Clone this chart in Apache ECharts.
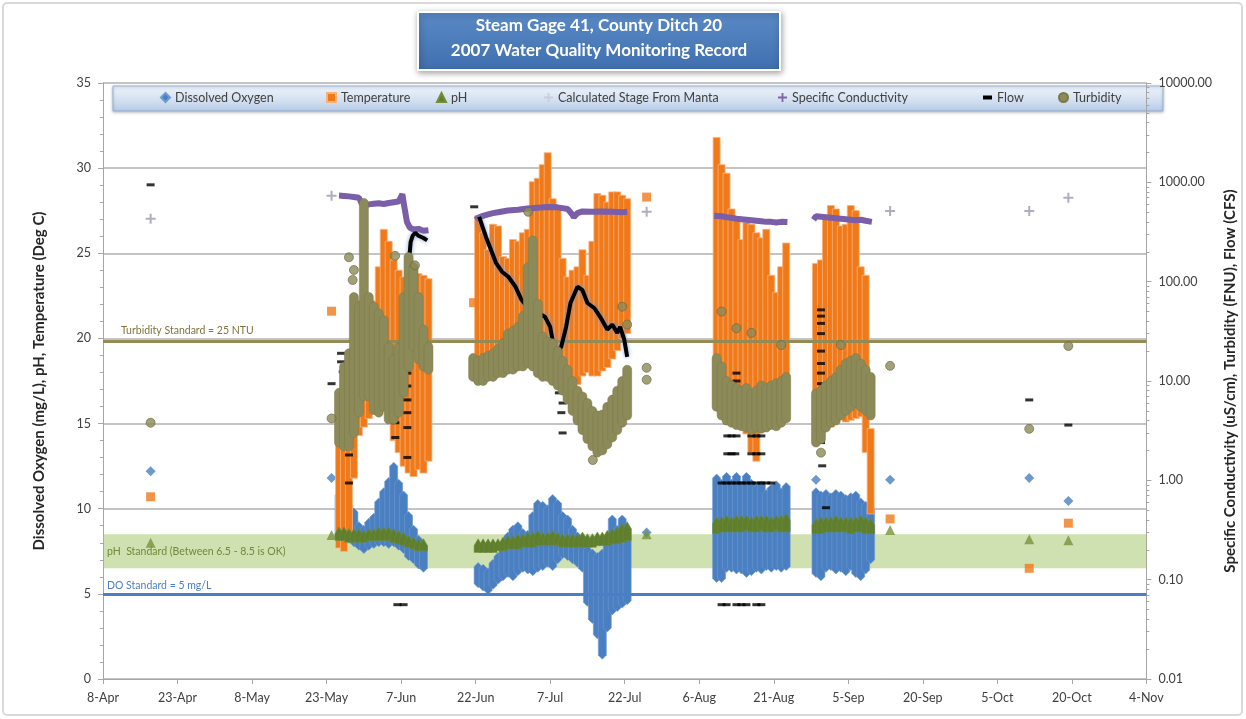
<!DOCTYPE html>
<html>
<head>
<meta charset="utf-8">
<style>
  html, body { margin: 0; padding: 0; background: #fff; }
  #main { width: 1246px; height: 719px; }
</style>
<script src="https://cdn.jsdelivr.net/npm/echarts@6/dist/echarts.min.js"></script>
</head>
<body>
<div id="main"></div>
<script>
// x axis: days counted from 8-Apr-2007, one tick every 15 days
const xTickLabels = ['8-Apr', '23-Apr', '8-May', '23-May', '7-Jun', '22-Jun', '7-Jul', '22-Jul',
  '6-Aug', '21-Aug', '5-Sep', '20-Sep', '5-Oct', '20-Oct', '4-Nov'];

// daily ranges [date, low, high] of the continuous sonde record
const doRanges = [
  ['5/25', 8.2, 10.8], ['5/26', 8.0, 10.5], ['5/27', 8.2, 10.2], ['5/28', 8.0, 9.8], ['5/29', 7.8, 9.0],
  ['5/30', 7.6, 8.8], ['5/31', 7.8, 9.2], ['6/1', 7.9, 9.5], ['6/2', 8.0, 10.4], ['6/3', 8.0, 11.0],
  ['6/4', 7.9, 11.6], ['6/5', 8.0, 12.5], ['6/6', 7.8, 11.5], ['6/7', 7.6, 10.8], ['6/8', 7.2, 9.6],
  ['6/9', 7.0, 8.8], ['6/10', 6.7, 8.2], ['6/11', 6.5, 7.8],
  ['6/22', 5.6, 6.6], ['6/23', 5.4, 6.5], ['6/24', 5.2, 6.3], ['6/25', 5.5, 6.8], ['6/26', 5.8, 7.2],
  ['6/27', 6.0, 7.8], ['6/28', 6.2, 8.4], ['6/29', 6.0, 8.8], ['6/30', 6.3, 9.0], ['7/1', 6.5, 8.6],
  ['7/2', 6.4, 8.5], ['7/3', 6.3, 9.6], ['7/4', 6.5, 10.3], ['7/5', 6.6, 10.2], ['7/6', 6.8, 10.0],
  ['7/7', 6.6, 10.6], ['7/8', 7.0, 10.3], ['7/9', 7.3, 9.6], ['7/10', 7.2, 9.4], ['7/11', 7.0, 8.8],
  ['7/12', 6.8, 8.4], ['7/13', 6.5, 8.3], ['7/14', 4.5, 7.6], ['7/15', 3.5, 7.4], ['7/16', 2.6, 7.2],
  ['7/17', 1.4, 7.4], ['7/18', 3.0, 8.0], ['7/19', 4.0, 9.4], ['7/20', 4.2, 8.8], ['7/21', 4.4, 9.4],
  ['7/22', 4.6, 8.8],
  ['8/9', 5.9, 11.8], ['8/10', 5.9, 11.5], ['8/11', 6.5, 11.9], ['8/12', 6.5, 11.5], ['8/13', 6.4, 11.9],
  ['8/14', 6.4, 11.4], ['8/15', 6.2, 11.9], ['8/16', 6.3, 11.5], ['8/17', 6.5, 11.2], ['8/18', 6.4, 11.4],
  ['8/19', 6.6, 10.9], ['8/20', 6.5, 11.2], ['8/21', 6.6, 11.4], ['8/22', 6.5, 11.0], ['8/23', 6.6, 11.3],
  ['8/29', 6.2, 11.0], ['8/30', 6.0, 10.8], ['8/31', 6.5, 10.9], ['9/1', 6.6, 10.7], ['9/2', 6.4, 10.9],
  ['9/3', 6.5, 10.8], ['9/4', 6.3, 10.6], ['9/5', 6.6, 10.7], ['9/6', 6.2, 10.8], ['9/7', 6.0, 10.4],
  ['9/8', 6.4, 10.2], ['9/9', 7.0, 10.0]
];
const tempRanges = [
  ['5/25', 7.9, 14.2], ['5/26', 7.7, 14.0], ['5/27', 8.8, 18.5], ['5/28', 12.0, 21.5], ['5/29', 14.5, 22.0],
  ['5/30', 15.0, 21.5], ['5/31', 15.5, 21.0], ['6/1', 16.5, 22.0], ['6/2', 17.0, 24.0], ['6/3', 18.5, 26.2],
  ['6/4', 16.0, 25.5], ['6/5', 14.2, 24.4], ['6/6', 13.5, 23.8], ['6/7', 12.7, 23.4], ['6/8', 12.3, 23.0],
  ['6/9', 12.1, 23.6], ['6/10', 12.5, 23.6], ['6/11', 12.3, 23.5], ['6/12', 13.0, 23.3],
  ['6/22', 19.0, 27.0], ['6/23', 18.9, 26.0], ['6/24', 19.2, 25.0], ['6/25', 19.0, 26.5], ['6/26', 18.5, 26.4],
  ['6/27', 18.8, 24.6], ['6/28', 18.6, 24.5], ['6/29', 19.0, 25.6], ['6/30', 19.0, 25.5], ['7/1', 18.7, 26.0],
  ['7/2', 18.7, 26.2], ['7/3', 18.5, 29.0], ['7/4', 19.0, 29.2], ['7/5', 19.2, 30.0], ['7/6', 19.3, 30.7],
  ['7/7', 19.1, 28.0], ['7/8', 19.0, 27.6], ['7/9', 18.3, 24.5], ['7/10', 18.0, 23.4], ['7/11', 17.8, 23.8],
  ['7/12', 17.5, 24.0], ['7/13', 18.0, 25.0], ['7/14', 18.2, 23.5], ['7/15', 18.0, 25.5], ['7/16', 18.0, 28.3],
  ['7/17', 18.3, 28.2], ['7/18', 18.5, 27.8], ['7/19', 19.0, 28.4], ['7/20', 19.5, 28.4], ['7/21', 20.2, 28.2],
  ['7/22', 20.5, 28.0],
  ['8/9', 16.0, 31.6], ['8/10', 15.6, 30.0], ['8/11', 15.5, 29.5], ['8/12', 15.8, 27.4], ['8/13', 15.2, 26.9],
  ['8/14', 15.0, 25.6], ['8/15', 14.6, 26.6], ['8/16', 13.5, 26.5], ['8/17', 13.0, 26.0], ['8/18', 14.8, 25.7],
  ['8/19', 15.0, 26.2], ['8/20', 15.2, 23.5], ['8/21', 15.0, 22.5], ['8/22', 15.1, 24.0], ['8/23', 15.4, 25.4],
  ['8/29', 14.5, 24.2], ['8/30', 14.8, 24.4], ['8/31', 15.0, 27.0], ['9/1', 15.0, 27.6], ['9/2', 15.2, 27.4],
  ['9/3', 15.5, 26.4], ['9/4', 15.3, 26.5], ['9/5', 15.4, 27.6], ['9/6', 15.5, 27.3], ['9/7', 15.6, 24.0],
  ['9/8', 13.5, 23.5], ['9/9', 9.9, 14.5]
];
const phRanges = [
  ['5/25', 8.3, 8.7], ['5/26', 8.3, 8.7], ['5/27', 8.2, 8.6], ['5/28', 8.2, 8.6], ['5/29', 8.2, 8.6],
  ['5/30', 8.2, 8.5], ['5/31', 8.3, 8.6], ['6/1', 8.3, 8.6], ['6/2', 8.3, 8.7], ['6/3', 8.3, 8.7],
  ['6/4', 8.3, 8.7], ['6/5', 8.2, 8.6], ['6/6', 8.1, 8.5], ['6/7', 8.0, 8.4], ['6/8', 7.9, 8.2],
  ['6/9', 7.8, 8.1], ['6/10', 7.7, 8.0], ['6/11', 7.7, 8.0],
  ['6/22', 7.6, 8.0], ['6/23', 7.6, 8.0], ['6/24', 7.6, 8.0], ['6/25', 7.6, 8.0], ['6/26', 7.7, 8.0],
  ['6/27', 7.7, 8.1], ['6/28', 7.8, 8.2], ['6/29', 7.8, 8.2], ['6/30', 7.8, 8.3], ['7/1', 7.9, 8.3],
  ['7/2', 7.9, 8.4], ['7/3', 7.9, 8.4], ['7/4', 8.0, 8.5], ['7/5', 8.0, 8.4], ['7/6', 8.0, 8.4],
  ['7/7', 8.0, 8.5], ['7/8', 8.0, 8.4], ['7/9', 7.9, 8.3], ['7/10', 7.9, 8.3], ['7/11', 7.9, 8.3],
  ['7/12', 7.9, 8.3], ['7/13', 7.9, 8.4], ['7/14', 7.9, 8.3], ['7/15', 7.9, 8.3], ['7/16', 8.0, 8.4],
  ['7/17', 8.0, 8.4], ['7/18', 8.0, 8.5], ['7/19', 8.1, 8.6], ['7/20', 8.1, 8.7], ['7/21', 8.2, 8.9],
  ['7/22', 8.3, 9.0],
  ['8/9', 8.7, 9.3], ['8/10', 8.8, 9.3], ['8/11', 8.8, 9.4], ['8/12', 8.8, 9.3], ['8/13', 8.8, 9.4],
  ['8/14', 8.8, 9.4], ['8/15', 8.9, 9.4], ['8/16', 8.8, 9.3], ['8/17', 8.8, 9.4], ['8/18', 8.9, 9.4],
  ['8/19', 8.8, 9.4], ['8/20', 8.8, 9.3], ['8/21', 8.9, 9.4], ['8/22', 8.8, 9.4], ['8/23', 8.8, 9.5],
  ['8/29', 8.7, 9.2], ['8/30', 8.7, 9.3], ['8/31', 8.8, 9.3], ['9/1', 8.8, 9.3], ['9/2', 8.8, 9.4],
  ['9/3', 8.8, 9.3], ['9/4', 8.8, 9.3], ['9/5', 8.7, 9.3], ['9/6', 8.8, 9.3], ['9/7', 8.8, 9.4],
  ['9/8', 8.7, 9.3], ['9/9', 8.7, 9.2]
];
const turbRanges = [
  ['5/25', 2.4, 7.6], ['5/26', 2.2, 13.9], ['5/27', 2.2, 19], ['5/28', 3.0, 70], ['5/29', 4.8, 56],
  ['5/30', 7, 620], ['5/31', 7, 70], ['6/1', 5.1, 56], ['6/2', 4.8, 48], ['6/3', 5.5, 41],
  ['6/4', 4.1, 22], ['6/5', 4.1, 16.5], ['6/6', 4.8, 22], ['6/7', 7.6, 70], ['6/8', 13.9, 177],
  ['6/9', 22, 140], ['6/10', 16.5, 70], ['6/11', 14, 33], ['6/12', 13, 22],
  ['6/21', 11, 17], ['6/22', 10, 16], ['6/23', 10, 17], ['6/24', 11, 18], ['6/25', 11, 19],
  ['6/26', 12, 21], ['6/27', 12, 24], ['6/28', 13, 30], ['6/29', 13, 32], ['6/30', 14, 35],
  ['7/1', 14, 45], ['7/2', 15, 140], ['7/3', 14, 260], ['7/4', 12, 60], ['7/5', 11, 28],
  ['7/6', 11, 25], ['7/7', 10, 24], ['7/8', 9, 20], ['7/9', 8, 16], ['7/10', 6.5, 13],
  ['7/11', 5, 10], ['7/12', 4, 8], ['7/13', 3.2, 7], ['7/14', 2.6, 6], ['7/15', 2.2, 5],
  ['7/16', 1.9, 4.5], ['7/17', 2.0, 4.6], ['7/18', 2.3, 5.5], ['7/19', 2.7, 6.5], ['7/20', 3.2, 8],
  ['7/21', 3.8, 10], ['7/22', 4.5, 13],
  ['8/9', 5.5, 17], ['8/10', 4.5, 14], ['8/11', 4.0, 10], ['8/12', 3.8, 9], ['8/13', 3.6, 8.5],
  ['8/14', 3.5, 8], ['8/15', 3.4, 8.5], ['8/16', 3.2, 7.5], ['8/17', 3.4, 8], ['8/18', 3.3, 9],
  ['8/19', 3.4, 8.5], ['8/20', 3.6, 9], ['8/21', 3.5, 9.5], ['8/22', 3.8, 10], ['8/23', 4.2, 11],
  ['8/29', 2.4, 7.5], ['8/30', 2.6, 8], ['8/31', 3.4, 9], ['9/1', 3.8, 10], ['9/2', 4.0, 11],
  ['9/3', 4.5, 13], ['9/4', 5, 15], ['9/5', 5.5, 16], ['9/6', 6, 17], ['9/7', 5.5, 15],
  ['9/8', 5, 13], ['9/9', 4.5, 11]
];

// single grab samples and scattered readings [date hour, value]
const doSamples = [['4/17 14', 12.2], ['5/24 0', 11.8], ['7/26 10', 8.6], ['8/29 12', 11.7],
  ['9/13 10', 11.7], ['10/11 10', 11.8], ['10/19 7', 10.45]];
const tempSamples = [['4/17 14', 10.7], ['5/24 0', 21.6], ['6/21 14', 22.1], ['7/26 10', 28.3],
  ['9/13 10', 9.4], ['10/11 10', 6.5], ['10/19 7', 9.15]];
const phSamples = [['4/17 14', 8.0], ['5/24 0', 8.45], ['7/26 10', 8.5], ['9/13 10', 8.75],
  ['10/11 10', 8.2], ['10/19 7', 8.15]];
const turbSamples = [['4/17 14', 3.8], ['5/24 0', 4.2], ['5/27', 176], ['5/28', 131], ['5/28 6', 104],
  ['6/5 19', 182], ['6/9 19', 146], ['7/2 14', 505], ['7/15 14', 1.6], ['7/21', 56], ['7/22', 37],
  ['7/26 10', 13.6], ['7/26 10', 10.3], ['8/10', 50], ['8/13', 34], ['8/16', 30.5], ['8/22', 23],
  ['8/30', 1.9], ['9/3', 23], ['9/13 10', 14.2], ['10/11 10', 3.3], ['10/19 7', 22.5]];
const condSamples = [['4/17 14', 429], ['5/24 0', 731], ['7/26 10', 505], ['9/13 10', 516],
  ['10/11 10', 516], ['10/19 7', 698]];

// specific conductivity record, one array per deployment
const condA = [['5/25 12', 735], ['5/26', 730], ['5/27', 722], ['5/28', 712], ['5/29', 700], ['5/29 20', 690],
  ['5/30 4', 600], ['5/30 18', 585], ['5/31', 600], ['6/1', 610], ['6/2', 615], ['6/3', 605], ['6/4', 620],
  ['6/5', 630], ['6/6', 640], ['6/6 20', 690], ['6/7 6', 760], ['6/7 16', 560], ['6/8 4', 400],
  ['6/8 18', 350], ['6/9', 335], ['6/10', 340], ['6/11', 325], ['6/12', 330]];
const condB = [['6/22 0', 420], ['6/22', 440], ['6/23', 460], ['6/24', 475], ['6/25', 490], ['6/26', 500],
  ['6/28', 520], ['6/30', 530], ['7/2', 545], ['7/4', 555], ['7/6', 565], ['7/8', 560], ['7/10', 540],
  ['7/11', 470], ['7/11 18', 445], ['7/12 12', 490], ['7/13', 510], ['7/15', 505], ['7/17', 510],
  ['7/19', 505], ['7/21', 500], ['7/22 12', 505]];
const condC = [['8/9 0', 460], ['8/10', 455], ['8/11', 445], ['8/12', 440], ['8/13', 430], ['8/14', 425],
  ['8/15', 420], ['8/16', 415], ['8/17', 410], ['8/18', 405], ['8/19', 400], ['8/20', 400], ['8/21', 395],
  ['8/22', 400], ['8/23 18', 398]];
const condD = [['8/29 0', 420], ['8/29 12', 455], ['8/30', 450], ['8/31', 445], ['9/1', 440], ['9/2', 435],
  ['9/3', 430], ['9/4', 425], ['9/5', 420], ['9/6', 415], ['9/7', 420], ['9/8', 410], ['9/9 18', 400]];

// flow record (continuous parts) and scattered flow readings
const flowA = [['5/31 12', 56], ['6/1 12', 45], ['6/2 12', 35], ['6/3 5', 28]];
const flowA2 = [['6/8 10', 110], ['6/8 16', 180], ['6/8 22', 250], ['6/9 8', 290], ['6/9 20', 310],
  ['6/10 12', 290], ['6/11', 275], ['6/11 18', 265], ['6/12 6', 260]];
const flowB = [['6/22 17', 450], ['6/24 2', 282], ['6/26 2', 155], ['6/27 7', 126], ['6/28 14', 112],
  ['6/30 0', 89], ['7/1 5', 66], ['7/2 14', 54], ['7/4 14', 48.5], ['7/6 0', 44], ['7/7 0', 35],
  ['7/7 14', 24.2], ['7/8 5', 19.2], ['7/9 5', 22], ['7/10 5', 35], ['7/11 2', 61], ['7/12 12', 89],
  ['7/13 12', 82], ['7/14 12', 61], ['7/15 22', 54], ['7/17 2', 44], ['7/18 12', 33], ['7/19 12', 37],
  ['7/20 12', 30.5], ['7/21 2', 35], ['7/21 22', 26], ['7/22 12', 17.5]];
const flowDash = [['4/17 14', 944], ['5/24 0', 9.4], ['6/21 17', 567], ['10/11 10', 6.45], ['10/19 7', 3.6],
  ['5/25 22', 19], ['5/25 22', 15.6], ['5/26 6', 12.4], ['5/26 12', 10.3], ['5/27', 8], ['5/27', 5.1],
  ['5/27', 1.8], ['5/27', 0.94], ['5/28 22', 15.5], ['5/28 22', 12], ['5/30', 16.5], ['5/30', 10],
  ['6/5 20', 3.8], ['6/5 20', 2.7], ['6/6 6', 0.056], ['6/7 12', 0.056], ['6/8 6', 22], ['6/8 6', 15.5],
  ['6/8 6', 12], ['6/8 6', 8.9], ['6/8 6', 6.45], ['6/8 6', 4.8], ['6/8 6', 3.4], ['6/8 6', 1.7],
  ['7/8 12', 12], ['7/8 12', 9.6], ['7/8 18', 7.6], ['7/9', 6], ['7/9 6', 4.8], ['7/9 12', 3],
  ['8/11 16', 3.8], ['8/12 6', 3.8], ['8/12 18', 3.8], ['8/11 16', 2.8], ['8/12 12', 2.8], ['8/13', 2.8],
  ['8/11 16', 1.85], ['8/12 12', 1.85], ['8/13 6', 1.85], ['8/16', 2.8], ['8/17', 2.8], ['8/18', 2.8],
  ['8/16', 1.85], ['8/17', 1.85], ['8/18', 1.85], ['8/10', 0.94], ['8/11', 0.94], ['8/12', 0.94],
  ['8/13', 0.94], ['8/14', 0.94], ['8/15', 0.94], ['8/16', 0.94], ['8/17', 0.94], ['8/18', 0.94],
  ['8/19', 0.94], ['8/20', 0.94], ['8/10', 0.056], ['8/11', 0.056], ['8/13', 0.056], ['8/14', 0.056],
  ['8/15', 0.056], ['8/17 12', 0.056], ['8/18 12', 0.056], ['8/13', 12], ['8/13', 10], ['8/13', 8.5],
  ['8/13', 7.6], ['8/18', 7], ['8/18', 5.5], ['8/30 12', 52], ['8/30 12', 45], ['8/30 12', 38],
  ['8/30 12', 30], ['8/30 12', 20], ['8/30 12', 15], ['8/30 12', 12], ['8/30 12', 9.4], ['8/30 12', 2.4],
  ['8/30 18', 1.4], ['8/31', 0.53]];

// standards
const turbStandard = 25;
const doStandard = 5;
const phBand = [6.5, 8.5];

const BASE = Date.UTC(2007, 3, 8);
function day(s) {
  const parts = s.split(' ');
  const md = parts[0].split('/').map(Number);
  const hour = parts.length > 1 ? Number(parts[1]) : 12;
  return (Date.UTC(2007, md[0] - 1, md[1], hour) - BASE) / 86400000;
}
const pts = arr => arr.map(r => [day(r[0]), r[1]]);
const rng = arr => arr.map(r => [day(r[0]), r[1], r[2]]);

const plusPath = 'path://M4,0H6V4H10V6H6V10H4V6H0V4H4Z';
const font = 'Lato, "Open Sans", sans-serif';

// column of stacked markers between the day's low and high value
function columnRender(shape, w) {
  return function (params, api) {
    const x = api.value(0);
    const lo = api.coord([x, api.value(1)]);
    const hi = api.coord([x, api.value(2)]);
    const cx = lo[0], y1 = hi[1], y2 = lo[1], h = w / 2;
    const style = api.style();
    if (shape === 'diamond') {
      return { type: 'polygon', shape: { points: [[cx, y1 - h], [cx + h, y1], [cx + h, y2], [cx, y2 + h], [cx - h, y2], [cx - h, y1]] }, style: style };
    }
    if (shape === 'triangle') {
      return { type: 'polygon', shape: { points: [[cx, y1 - h], [cx + h, y1 + h * 0.7], [cx + h, y2 + h * 0.7], [cx - h, y2 + h * 0.7], [cx - h, y1 + h * 0.7]] }, style: style };
    }
    return { type: 'rect', shape: { x: cx - h, y: y1 - h, width: w, height: y2 - y1 + w, r: shape === 'round' ? h : 0 }, style: style };
  };
}

const chart = echarts.init(document.getElementById('main'));

const legendPos = [
  ['Dissolved Oxygen', 'diamond', 160],
  ['Temperature', 'rect', 326],
  ['pH', 'triangle', 436],
  ['Calculated Stage From Manta', plusPath, 544],
  ['Specific Conductivity', plusPath, 778],
  ['Flow', 'rect', 983],
  ['Turbidity', 'circle', 1058]
];

const option = {
  animation: false,
  backgroundColor: '#fff',
  grid: { left: 103, right: 84, top: 83, bottom: 40 },
  legend: legendPos.map(l => ({
    data: [{ name: l[0], icon: l[1] }],
    left: l[2], top: 91, padding: 0,
    itemWidth: 9, itemHeight: l[0] === 'Flow' ? 4 : 9, itemGap: 4,
    textStyle: { fontFamily: font, fontSize: 12.5, color: '#404040' }
  })),
  xAxis: {
    type: 'value', min: 0, max: 210, interval: 15,
    axisLine: { lineStyle: { color: '#a6a6a6' } },
    axisTick: { lineStyle: { color: '#a6a6a6' }, length: 5 },
    splitLine: { show: false },
    axisLabel: { formatter: v => xTickLabels[Math.round(v / 15)], fontFamily: font, fontSize: 12.5, color: '#404040', margin: 12 }
  },
  yAxis: [
    {
      type: 'value', min: 0, max: 35, interval: 5,
      name: 'Dissolved Oxygen (mg/L), pH, Temperature (Deg C)',
      nameLocation: 'middle', nameGap: 56,
      nameTextStyle: { fontFamily: font, fontSize: 15, fontWeight: 'bold', color: '#262626' },
      axisLine: { show: true, lineStyle: { color: '#a6a6a6' } },
      axisTick: { show: true, lineStyle: { color: '#a6a6a6' }, length: 5 },
      minorTick: { show: true, splitNumber: 5, length: 3, lineStyle: { color: '#a6a6a6' } },
      splitLine: { lineStyle: { color: '#c4c4c4', width: 2 } },
      axisLabel: { fontFamily: font, fontSize: 12.5, color: '#404040', margin: 12 }
    },
    {
      type: 'log', logBase: 10, min: 0.01, max: 10000, splitNumber: 6,
      name: 'Specific Conductivity (uS/cm), Turbidity (FNU), Flow (CFS)',
      nameLocation: 'middle', nameGap: 72, nameRotate: 90,
      nameTextStyle: { fontFamily: font, fontSize: 15, fontWeight: 'bold', color: '#262626' },
      axisLine: { show: true, lineStyle: { color: '#a6a6a6' } },
      axisTick: { show: true, lineStyle: { color: '#a6a6a6' }, length: 5 },
      minorTick: { show: true, splitNumber: 9, length: 3, lineStyle: { color: '#a6a6a6' } },
      splitLine: { show: false },
      axisLabel: { formatter: v => Number(v).toFixed(2), fontFamily: font, fontSize: 12.5, color: '#404040', margin: 12 }
    }
  ],
  graphic: [
    { type: 'rect', shape: { x: 3, y: 3, width: 1239, height: 712, r: 4 }, style: { fill: 'none', stroke: '#d9d9d9', lineWidth: 2 }, silent: true },
    {
      type: 'rect', shape: { x: 113, y: 86, width: 1050, height: 25 }, z: 0,
      style: {
        fill: new echarts.graphic.LinearGradient(0, 0, 0, 1, [{ offset: 0, color: '#eef3fa' }, { offset: 0.5, color: '#d7e3f2' }, { offset: 1, color: '#b7cce6' }]),
        stroke: '#95b3d7', lineWidth: 1, shadowBlur: 3, shadowColor: 'rgba(0,0,0,0.25)', shadowOffsetY: 1
      }
    },
    {
      type: 'rect', shape: { x: 418, y: 12, width: 362, height: 58 }, z: 0,
      style: {
        fill: new echarts.graphic.LinearGradient(0, 0, 0, 1, [{ offset: 0, color: '#5a8ac6' }, { offset: 1, color: '#3f6fae' }]),
        stroke: '#ffffff', lineWidth: 2, shadowBlur: 6, shadowColor: 'rgba(0,0,0,0.35)', shadowOffsetX: 1, shadowOffsetY: 2
      }
    },
    { type: 'text', x: 599, y: 17, z: 1, style: { text: 'Steam Gage 41, County Ditch 20', fill: '#fff', font: 'bold 17px Lato, "Open Sans", sans-serif', align: 'center' } },
    { type: 'text', x: 599, y: 42, z: 1, style: { text: '2007 Water Quality Monitoring Record', fill: '#fff', font: 'bold 17px Lato, "Open Sans", sans-serif', align: 'center' } }
  ],
  series: [
    {
      name: 'Dissolved Oxygen', type: 'custom', yAxisIndex: 0, z: 2,
      renderItem: columnRender('diamond', 8), encode: { x: 0, y: [1, 2] }, data: rng(doRanges),
      itemStyle: { color: '#4a7fc1', borderColor: '#6f9bd2', borderWidth: 0.6 }
    },
    {
      name: 'Dissolved Oxygen', type: 'scatter', yAxisIndex: 0, z: 2, symbol: 'diamond', symbolSize: 10,
      data: pts(doSamples), itemStyle: { color: '#4a7fc1' }
    },
    {
      name: 'Temperature', type: 'custom', yAxisIndex: 0, z: 3,
      renderItem: columnRender('rect', 7), encode: { x: 0, y: [1, 2] }, data: rng(tempRanges),
      itemStyle: { color: '#f07a1a', borderColor: '#f8b37c', borderWidth: 0.8 }
    },
    {
      name: 'Temperature', type: 'scatter', yAxisIndex: 0, z: 3, symbol: 'rect', symbolSize: 9,
      data: pts(tempSamples), itemStyle: { color: '#f07a1a' }
    },
    {
      name: 'pH', type: 'custom', yAxisIndex: 0, z: 4,
      renderItem: columnRender('triangle', 8), encode: { x: 0, y: [1, 2] }, data: rng(phRanges),
      itemStyle: { color: '#5f7f2e', borderColor: '#6f8f3a', borderWidth: 0.5 }
    },
    {
      name: 'pH', type: 'scatter', yAxisIndex: 0, z: 4, symbol: 'triangle', symbolSize: 10,
      data: pts(phSamples), itemStyle: { color: '#77933c' }
    },
    {
      name: 'Calculated Stage From Manta', type: 'scatter', yAxisIndex: 1, data: [],
      itemStyle: { color: '#c3c8d8' }
    },
    ...[condA, condB, condC, condD].map(seg => ({
      name: 'Specific Conductivity', type: 'line', yAxisIndex: 1, z: 5, showSymbol: false,
      data: pts(seg), itemStyle: { color: '#8064a2' },
      lineStyle: { color: '#7a5ea8', width: 6 }
    })),
    {
      name: 'Specific Conductivity', type: 'scatter', yAxisIndex: 1, z: 5, symbol: plusPath, symbolSize: 10,
      data: pts(condSamples), itemStyle: { color: '#9a9ab0' }
    },
    ...[flowA, flowA2, flowB].map(seg => ({
      name: 'Flow', type: 'line', yAxisIndex: 1, z: 6, showSymbol: false,
      data: pts(seg), itemStyle: { color: '#000' },
      lineStyle: { color: '#000', width: 4, shadowColor: 'rgba(120,150,210,0.9)', shadowBlur: 4 }
    })),
    {
      name: 'Flow', type: 'scatter', yAxisIndex: 1, z: 6, symbol: 'rect', symbolSize: [8, 3],
      data: pts(flowDash), itemStyle: { color: '#000' }
    },
    {
      name: 'Turbidity', type: 'custom', yAxisIndex: 1, z: 7,
      renderItem: columnRender('round', 9), encode: { x: 0, y: [1, 2] }, data: rng(turbRanges),
      itemStyle: { color: '#8c8a58', borderColor: '#7a7848', borderWidth: 0.5 }
    },
    {
      name: 'Turbidity', type: 'scatter', yAxisIndex: 1, z: 7, symbol: 'circle', symbolSize: 9,
      data: pts(turbSamples), itemStyle: { color: '#8c8a58', borderColor: '#66653d', borderWidth: 0.8 }
    },
    {
      name: 'standardsLeft', type: 'line', yAxisIndex: 0, z: 9, data: [], silent: true,
      markArea: {
        silent: true,
        itemStyle: { color: 'rgba(160,195,100,0.5)' },
        label: { show: true, position: 'insideLeft', distance: 4, formatter: 'pH  Standard (Between 6.5 - 8.5 is OK)', fontFamily: font, fontSize: 10.5, color: '#6e8a3a' },
        data: [[{ yAxis: phBand[0] }, { yAxis: phBand[1] }]]
      },
      markLine: {
        silent: true, symbol: ['none', 'none'],
        lineStyle: { color: '#4a7fc8', width: 3, type: 'solid' },
        label: { show: true, position: 'insideStartTop', distance: [4, 3], formatter: 'DO Standard = 5 mg/L', fontFamily: font, fontSize: 10.5, color: '#4a7fc8' },
        data: [{ yAxis: doStandard }]
      }
    },
    {
      name: 'standardsRight', type: 'line', yAxisIndex: 1, z: 9, data: [], silent: true,
      markLine: {
        silent: true, symbol: ['none', 'none'],
        lineStyle: { color: '#948a54', width: 3, type: 'solid' },
        label: { show: true, position: 'insideStartTop', distance: [18, 5], formatter: 'Turbidity Standard = 25 NTU', fontFamily: font, fontSize: 10.5, color: '#7f7340' },
        data: [{ yAxis: turbStandard }]
      }
    }
  ]
};

chart.setOption(option);
</script>
</body>
</html>
